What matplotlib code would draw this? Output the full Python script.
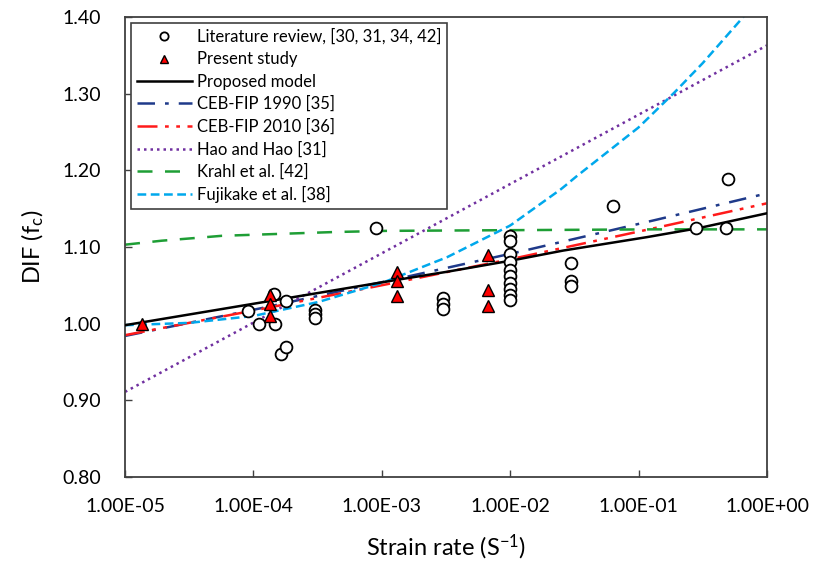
import numpy as np
import matplotlib.pyplot as plt

plt.rcParams['font.family'] = ['Lato', 'DejaVu Sans']
plt.rcParams['mathtext.default'] = 'regular'

# literature review points (strain rate, DIF)
lit_x = [9.0e-5, 1.1e-4, 1.45e-4, 1.48e-4, 1.8e-4, 1.64e-4, 1.78e-4,
         3.0e-4, 3.0e-4, 3.0e-4, 9.0e-4,
         3.0e-3, 3.0e-3, 3.0e-3,
         1e-2, 1e-2, 1e-2, 1e-2, 1e-2, 1e-2, 1e-2, 1e-2, 1e-2, 1e-2,
         2.98e-2, 2.98e-2, 2.98e-2, 6.3e-2, 0.28, 0.476, 0.50]
lit_y = [1.017, 1.000, 1.039, 1.000, 1.029, 0.960, 0.970,
         1.018, 1.012, 1.008, 1.125,
         1.033, 1.026, 1.019,
         1.114, 1.108, 1.091, 1.081, 1.070, 1.062, 1.053, 1.045, 1.037, 1.031,
         1.079, 1.055, 1.049, 1.153, 1.125, 1.125, 1.189]

# present study
ps_x = [1.35e-5, 1.35e-4, 1.35e-4, 1.35e-4, 1.32e-3, 1.32e-3, 1.32e-3,
        6.75e-3, 6.75e-3, 6.75e-3]
ps_y = [1.000, 1.037, 1.026, 1.010, 1.068, 1.055, 1.036,
        1.090, 1.044, 1.023]

# model curves (log10 strain rate, DIF)
prop_lx = [-5, -4, -3, -2.55, -2, -1.6, -1, -0.55, 0]
prop_y = [0.998, 1.026, 1.054, 1.066, 1.082, 1.095, 1.111, 1.124, 1.144]

ceb90_lx = [-5, -4, -3, -2, -1, 0]
ceb90_y = [0.984, 1.018, 1.054, 1.091, 1.130, 1.170]

ceb10_lx = [-5, -4, -3, -2, -1, 0]
ceb10_y = [0.985, 1.017, 1.050, 1.084, 1.120, 1.157]

hao_lx = [-5, 0]
hao_y = [0.911, 1.363]

krahl_lx = [-5, -4.73, -4.5, -4.26, -4, -3.5, -3, -2, -1, 0]
krahl_y = [1.103, 1.108, 1.111, 1.1145, 1.116, 1.119, 1.121, 1.122, 1.123, 1.123]

fuji_lx = [-5, -4.5, -4, -3.5, -3, -2.5, -2, -1.6, -1.5, -1, -0.73, -0.5, -0.185, 0]
fuji_y = [0.998, 1.001, 1.010, 1.028, 1.053, 1.086, 1.128, 1.176, 1.19, 1.256,
          1.300, 1.34, 1.40, 1.44]

xticks = [1e-5, 1e-4, 1e-3, 1e-2, 1e-1, 1e0]
xtick_labels = ['1.00E-05', '1.00E-04', '1.00E-03', '1.00E-02', '1.00E-01', '1.00E+00']
yticks = [0.80, 0.90, 1.00, 1.10, 1.20, 1.30, 1.40]


def smooth(lx, y):
    # piecewise-linear in log x through the read points
    xs = np.linspace(lx[0], lx[-1], 300)
    return 10 ** xs, np.interp(xs, lx, y)


fig = plt.figure(figsize=(8.14, 5.74), dpi=100)
ax = fig.add_axes([0.1536, 0.169, 0.7887, 0.8014])

ax.plot(lit_x, lit_y, 'o', ms=8.5, mfc='white', mec='black', mew=1.3,
        zorder=4, label='Literature review, [30, 31, 34, 42]')
ax.plot(ps_x, ps_y, '^', ms=8.5, mfc='#ff0000', mec='black', mew=1.0,
        zorder=5, label='Present study')

x, y = smooth(prop_lx, prop_y)
ax.plot(x, y, color='black', lw=1.8, zorder=3, label='Proposed model')
x, y = smooth(ceb90_lx, ceb90_y)
ax.plot(x, y, color='#1f3a8a', lw=1.8, dashes=(7, 4, 1.5, 4), label='CEB-FIP 1990 [35]')
x, y = smooth(ceb10_lx, ceb10_y)
ax.plot(x, y, color='#ff1a1a', lw=1.8, dashes=(8, 3, 1.5, 3, 1.5, 3), label='CEB-FIP 2010 [36]')
x, y = smooth(hao_lx, hao_y)
ax.plot(x, y, color='#7030a0', lw=1.8, dashes=(1, 1.6), label='Hao and Hao [31]')
x, y = smooth(krahl_lx, krahl_y)
ax.plot(x, y, color='#1e9e35', lw=1.8, dashes=(6, 5), label='Krahl et al. [42]')
x, y = smooth(fuji_lx, fuji_y)
ax.plot(x, y, color='#00a8ec', lw=1.8, dashes=(3.5, 1.8), label='Fujikake et al. [38]')

ax.set_xscale('log')
ax.set_xlim(1e-5, 1e0)
ax.set_ylim(0.80, 1.40)
ax.set_xticks(xticks)
ax.set_xticklabels(xtick_labels)
ax.minorticks_off()
ax.set_yticks(yticks)
ax.set_yticklabels(['%.2f' % v for v in yticks])
ax.tick_params(direction='in', length=5, width=1, color='#404040',
               labelsize=14, pad=17)
ax.tick_params(axis='x', pad=15)
for s in ax.spines.values():
    s.set_color('#404040')
    s.set_linewidth(1.3)

ax.set_xlabel('Strain rate (S$^{-1}$)', fontsize=17, labelpad=13)
ax.set_ylabel('DIF (f$_c$)', fontsize=17, labelpad=12)

leg = ax.legend(loc='upper left', fontsize=12, frameon=True, fancybox=False,
                edgecolor='#404040', framealpha=1, handlelength=3.3,
                handletextpad=0.3, labelspacing=0.38, borderpad=0.35,
                borderaxespad=0.35, markerscale=0.7)
leg.get_frame().set_linewidth(1.2)

fig.savefig('out.png', dpi=100)
